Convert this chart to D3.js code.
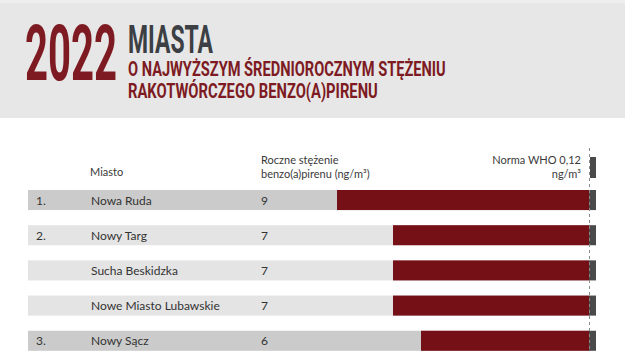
<!DOCTYPE html>
<html>
<head>
<meta charset="utf-8">
<script src="https://cdn.jsdelivr.net/npm/d3@7"></script>
<style>
  body { margin: 0; background: #fff; }
  svg { display: block; }
  text { font-family: Lato, "Open Sans", sans-serif; }
</style>
</head>
<body>
<div id="chart"></div>
<script>
// data
var groups = [1, 2, 2, 2, 3]
var rankLabels = ['1.', '2.', '', '', '3.']
var cities = ['Nowa Ruda', 'Nowy Targ', 'Sucha Beskidzka', 'Nowe Miasto Lubawskie', 'Nowy Sącz']
var values = [9, 7, 7, 7, 6]
var whoNorm = 0.12

var width = 625, height = 352

var svg = d3.select('#chart').append('svg')
    .attr('width', width)
    .attr('height', height)

// header
svg.append('rect').attr('x', 0).attr('y', 0).attr('width', width).attr('height', 118).attr('fill', '#e7e7e7')
svg.append('rect').attr('x', 0).attr('y', 0).attr('width', width).attr('height', 3).attr('fill', '#efefef')

// condensed title lines: squeeze each to the width it has in the picture
function condensed(txt, x0, y0, size, w, colour) {
    var t = svg.append('text')
        .attr('x', 0).attr('y', 0)
        .attr('font-size', size)
        .attr('font-weight', 'bold')
        .attr('fill', colour)
        .style('font-family', 'Roboto, "DejaVu Sans", sans-serif')
        .text(txt)
    var k = w / t.node().getComputedTextLength()
    t.attr('transform', 'translate(' + x0 + ',' + y0 + ') scale(' + k + ',1)')
}
condensed('2022', 25, 80, 77, 92, '#7d1a22')
condensed('MIASTA', 128, 53, 38, 85, '#3c3f44')
condensed('O NAJWYŻSZYM ŚREDNIOROCZNYM STĘŻENIU', 128, 76, 20, 318, '#7d1a22')
condensed('RAKOTWÓRCZEGO BENZO(A)PIRENU', 128, 98, 20, 250, '#7d1a22')

// scales
var x = d3.scaleLinear().domain([0, d3.max(values)]).range([589, 337])
var y = d3.scaleBand().domain(d3.range(cities.length)).range([190, 350.8]).paddingInner(0.43).paddingOuter(0)

// column headers
var head = svg.append('g').attr('fill', '#3a3a3a').attr('font-size', 11)
head.append('text').attr('x', 90).attr('y', 176).text('Miasto')
head.append('text').attr('x', 261).attr('y', 164).text('Roczne stężenie')
head.append('text').attr('x', 261).attr('y', 178).text('benzo(a)pirenu (ng/m³)')
head.append('text').attr('x', 581).attr('y', 164).attr('text-anchor', 'end').text('Norma WHO 0,12')
head.append('text').attr('x', 581).attr('y', 178).attr('text-anchor', 'end').text('ng/m³')

// WHO norm marker in header
svg.append('rect')
    .attr('x', x(0) + 1).attr('y', 157)
    .attr('width', 6).attr('height', 21)
    .attr('fill', '#4a4a4a')

// rows
var rows = svg.append('g').selectAll('g')
    .data(cities)
    .enter().append('g')

rows.append('rect')
    .attr('x', 28)
    .attr('y', function (d, i) { return y(i) })
    .attr('width', x(0) - 28)
    .attr('height', y.bandwidth())
    .attr('fill', function (d, i) { return groups[i] % 2 == 1 ? '#cbcbcb' : '#e4e4e4' })

rows.append('rect')
    .attr('x', function (d, i) { return x(values[i]) })
    .attr('y', function (d, i) { return y(i) })
    .attr('width', function (d, i) { return x(0) - x(values[i]) })
    .attr('height', y.bandwidth())
    .attr('fill', '#751017')

rows.append('rect')
    .attr('x', x(0))
    .attr('y', function (d, i) { return y(i) })
    .attr('width', 7)
    .attr('height', y.bandwidth())
    .attr('fill', '#4a4a4a')
    .datum(whoNorm)

rows.append('text')
    .attr('x', 36)
    .attr('y', function (d, i) { return y(i) + y.bandwidth() / 2 + 4.5 })
    .attr('font-size', 12).attr('fill', '#333')
    .text(function (d, i) { return rankLabels[i] })

rows.append('text')
    .attr('x', 91)
    .attr('y', function (d, i) { return y(i) + y.bandwidth() / 2 + 4.5 })
    .attr('font-size', 12).attr('fill', '#333')
    .text(function (d) { return d })

rows.append('text')
    .attr('x', 261)
    .attr('y', function (d, i) { return y(i) + y.bandwidth() / 2 + 4.5 })
    .attr('font-size', 12).attr('fill', '#333')
    .text(function (d, i) { return values[i] })

// dashed norm line
svg.append('line')
    .attr('x1', x(0) + 0.5).attr('x2', x(0) + 0.5)
    .attr('y1', 148).attr('y2', height)
    .attr('stroke', '#8a8a8a')
    .attr('stroke-dasharray', '3,3')
</script>
</body>
</html>
